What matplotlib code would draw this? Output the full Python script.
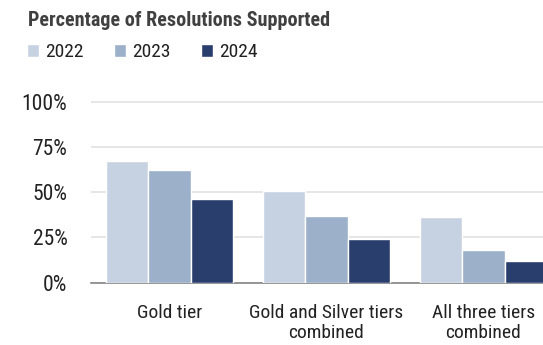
import matplotlib.pyplot as plt
import numpy as np

# Share of resolutions supported, by tier group and year
categories = ["Gold tier", "Gold and Silver tiers\ncombined", "All three tiers\ncombined"]
years = ["2022", "2023", "2024"]
pct_2022 = [67.0, 50.4, 36.4]
pct_2023 = [62.4, 36.8, 18.3]
pct_2024 = [46.0, 23.9, 11.8]
yticks = [0, 25, 50, 75, 100]

colors = ["#c6d2e1", "#9cb0c9", "#2a3e6d"]
font = ["Roboto Condensed", "Barlow Semi Condensed", "Liberation Sans Narrow", "DejaVu Sans"]

fig = plt.figure(figsize=(5.43, 3.45), dpi=100)
ax = fig.add_axes([0.1676, 0.1806, 0.8324, 0.53])

x = np.arange(len(categories))
width = 0.27
for i, (vals, year) in enumerate(zip([pct_2022, pct_2023, pct_2024], years)):
    ax.bar(x + (i - 1) * width, vals, width, color=colors[i], edgecolor="white",
           linewidth=1, label=year, zorder=3)

ax.set_xlim(-0.5, 2.38)
ax.set_ylim(0, 101)
ax.set_yticks(yticks)
ax.set_yticklabels([f"{v}%" for v in yticks], family=font, fontsize=15.5, color="#222222")
ax.set_xticks(x)
ax.set_xticklabels(categories, family=font, fontsize=14, color="#222222", linespacing=1.15)
ax.tick_params(axis="both", length=0)
ax.tick_params(axis="y", pad=17)
ax.tick_params(axis="x", pad=15)

ax.grid(axis="y", color="#e2e2e2", linewidth=1.2, zorder=0)
for side in ["top", "right", "left"]:
    ax.spines[side].set_visible(False)
ax.spines["bottom"].set_color("#858585")
ax.spines["bottom"].set_linewidth(1.2)

fig.text(0.052, 0.942, "Percentage of Resolutions Supported", family=font,
         fontweight="bold", fontsize=14.5, color="#404040", va="center")
fig.legend(loc="center left", bbox_to_anchor=(0.0497, 0.849), ncol=3, frameon=False,
           borderpad=0, borderaxespad=0, prop={"family": font, "size": 14},
           handlelength=0.62, handleheight=0.62, handletextpad=0.31,
           columnspacing=1.57, labelcolor="#222222")

fig.savefig("out.png", dpi=100)
